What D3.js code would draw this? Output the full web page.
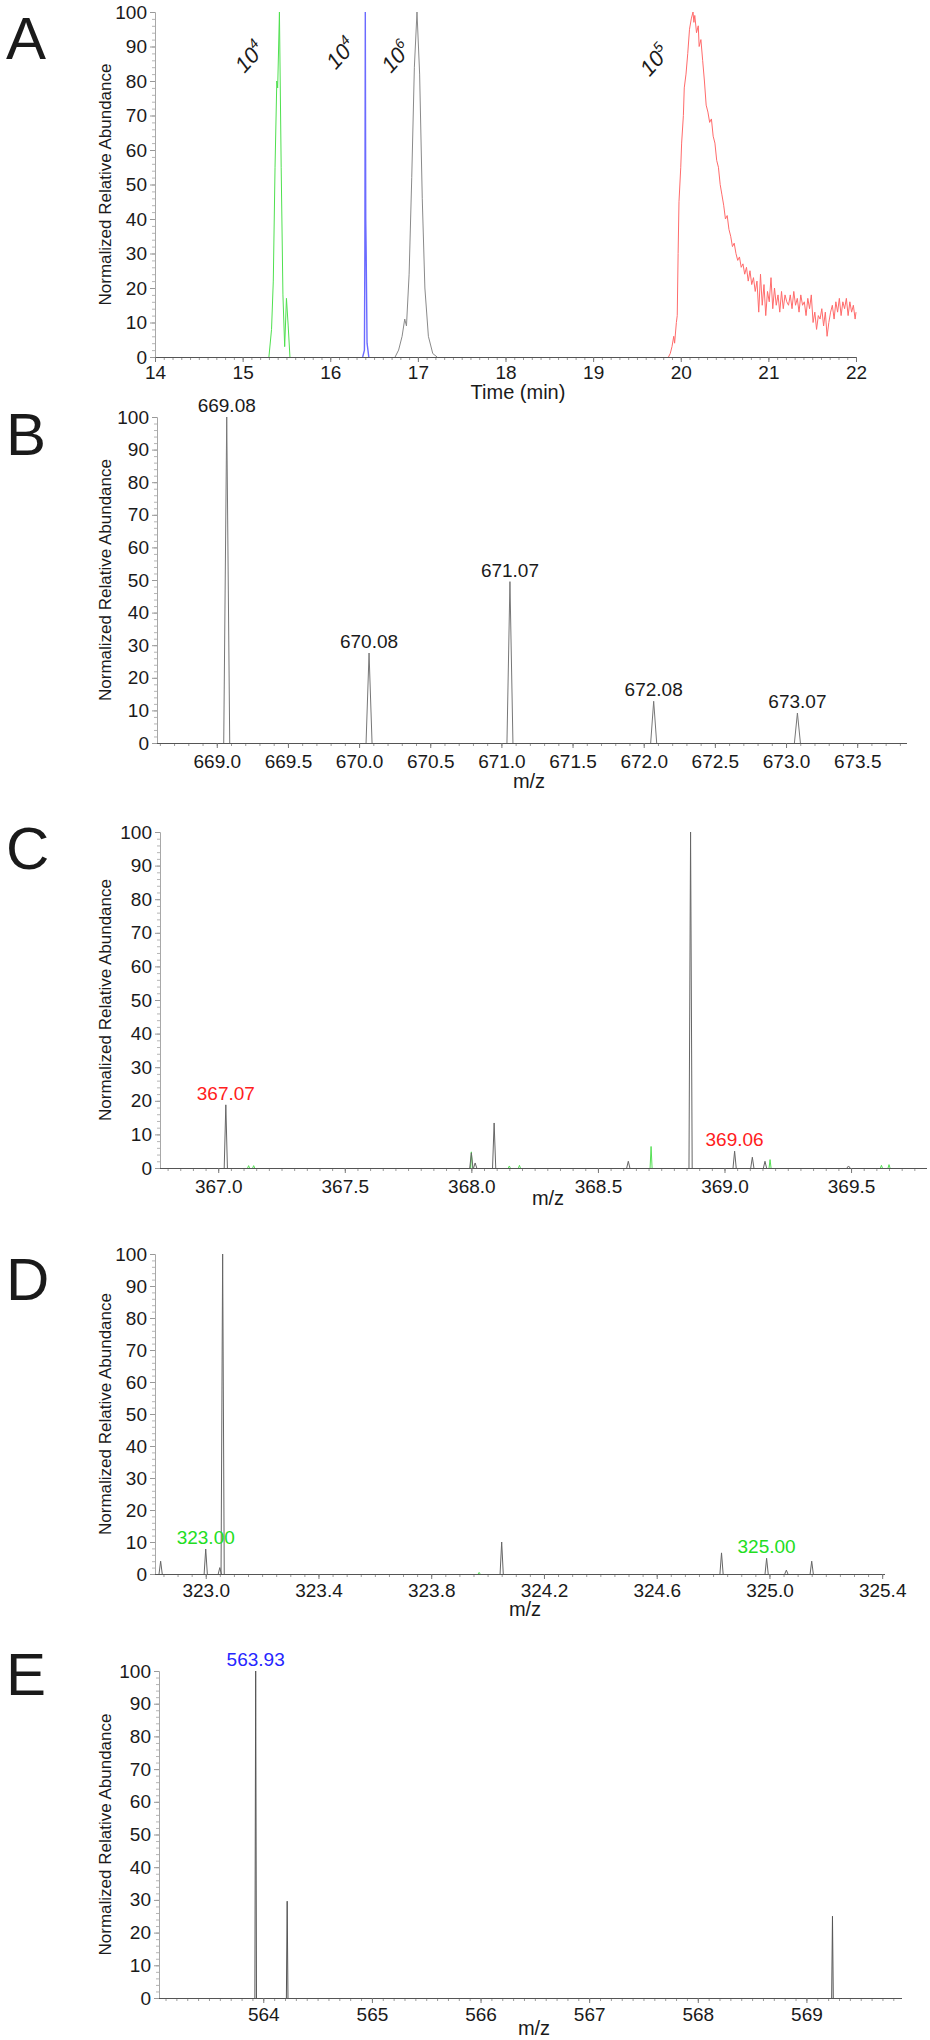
<!DOCTYPE html>
<html>
<head>
<meta charset="utf-8">
<script src="https://cdn.jsdelivr.net/npm/d3@7"></script>
<style>
  body { margin: 0; background: #fff; }
  text { font-family: "Liberation Sans", Arial, Helvetica, sans-serif; fill: #1a1a1a; }
</style>
</head>
<body>
<div id="chart"></div>
<script>
// ---- data ----
const yTickValues = [0, 10, 20, 30, 40, 50, 60, 70, 80, 90, 100];

// A: extracted ion chromatograms (time in min, normalized abundance)
const timeTicks = [14, 15, 16, 17, 18, 19, 20, 21, 22];
const greenTrace = [[15.30, 0], [15.33, 8], [15.35, 22], [15.37, 55], [15.39, 80], [15.40, 78], [15.42, 100],
    [15.44, 55], [15.46, 18], [15.48, 3], [15.50, 17], [15.52, 9], [15.54, 0]];
const blueTrace = [[16.37, 0], [16.39, 2], [16.395, 30], [16.40, 100], [16.405, 40], [16.41, 30], [16.42, 4], [16.44, 0]];
const grayTrace = [[16.74, 0], [16.78, 2], [16.82, 6], [16.85, 11], [16.87, 9], [16.90, 24], [16.93, 52],
    [16.96, 84], [16.99, 100], [17.02, 82], [17.05, 46], [17.08, 20], [17.12, 6], [17.17, 1], [17.22, 0]];
const redTrace = [[19.86, 0], [19.88, 1], [19.90, 3], [19.92, 6], [19.93, 4], [19.95, 10], [19.96, 12], [19.97, 30],
    [19.98, 45], [20.00, 55], [20.01, 62], [20.03, 70], [20.04, 78], [20.06, 82], [20.08, 88], [20.10, 95],
    [20.12, 98], [20.14, 100], [20.15, 97], [20.16, 99], [20.18, 94], [20.20, 96], [20.21, 90], [20.23, 92],
    [20.25, 86], [20.27, 80], [20.29, 73], [20.31, 71], [20.33, 68], [20.35, 69], [20.37, 64], [20.39, 62],
    [20.41, 57], [20.43, 55], [20.45, 50], [20.47, 47], [20.49, 44], [20.51, 40], [20.53, 41], [20.55, 37],
    [20.57, 35], [20.59, 32], [20.61, 33], [20.63, 30], [20.65, 28], [20.67, 29], [20.69, 26], [20.71, 27],
    [20.73, 24], [20.75, 26], [20.77, 22], [20.79, 25], [20.81, 21], [20.83, 23], [20.85, 19], [20.87, 22],
    [20.89, 13], [20.91, 24], [20.93, 15], [20.95, 21], [20.97, 12], [20.99, 19], [21.01, 16], [21.03, 23],
    [21.05, 14], [21.07, 20], [21.09, 15], [21.11, 18], [21.13, 13], [21.15, 19], [21.17, 14], [21.19, 18],
    [21.21, 16], [21.23, 15], [21.25, 18], [21.27, 14], [21.29, 19], [21.31, 15], [21.33, 17], [21.35, 13],
    [21.37, 18], [21.39, 15], [21.41, 16], [21.43, 12], [21.45, 17], [21.47, 14], [21.49, 18], [21.51, 10],
    [21.53, 13], [21.55, 8], [21.57, 12], [21.59, 11], [21.61, 14], [21.63, 9], [21.65, 13], [21.67, 6],
    [21.69, 10], [21.71, 13], [21.73, 15], [21.75, 11], [21.77, 16], [21.79, 13], [21.81, 17], [21.83, 12],
    [21.85, 16], [21.87, 14], [21.89, 17], [21.91, 12], [21.93, 16], [21.95, 13], [21.97, 15], [21.99, 11], [22.00, 13]];
// intensity annotations above the peaks: [time, abundance, exponent]
const chromNotes = [[15.08, 87, '4'], [16.12, 88, '4'], [16.75, 87, '6'], [19.70, 86, '5']];

// B: isotope pattern (m/z, abundance)
const ticksB = [669.0, 669.5, 670.0, 670.5, 671.0, 671.5, 672.0, 672.5, 673.0, 673.5];
const peaksB = [[669.07, 100], [670.07, 27.6], [671.06, 49.5], [672.07, 12.8], [673.08, 9.2]];
const labelsB = ['669.08', '670.08', '671.07', '672.08', '673.07'];

// C
const ticksC = [367.0, 367.5, 368.0, 368.5, 369.0, 369.5];
const peaksC = [[367.03, 18.8], [368.0, 4.5], [368.015, 1.5], [368.09, 13.4], [368.62, 2], [368.866, 100],
    [369.04, 5], [369.11, 3.2], [369.16, 2], [369.49, 0.6]];
const greenC = [[367.12, 0.7], [367.14, 0.7], [368.0, 4.8], [368.15, 0.6], [368.19, 0.8], [368.71, 6.4],
    [369.18, 2.5], [369.62, 0.8], [369.65, 1]];
const labelsC = [[0, '367.07'], [6, '369.06']];

// D
const ticksD = [323.0, 323.4, 323.8, 324.2, 324.6, 325.0, 325.4];
const peaksD = [[322.84, 4], [323.0, 7.8], [323.05, 2], [323.06, 100], [324.05, 10], [324.83, 6.6],
    [324.99, 4.9], [325.06, 1.2], [325.15, 4]];
const greenD = [[323.97, 0.5]];
const labelsD = [[1, '323.00'], [6, '325.00']];

// E
const ticksE = [564, 565, 566, 567, 568, 569];
const peaksE = [[563.93, 100], [564.22, 29.6], [569.24, 25]];
const labelsE = [[0, '563.93']];

// ---- drawing ----
const svg = d3.select('#chart').append('svg')
    .attr('width', 930)
    .attr('height', 2040)
    .style('background', '#fff');

function drawPanel(p) {
    const x = d3.scaleLinear().domain(p.xDomain).range([p.left, p.right]);
    const y = d3.scaleLinear().domain([0, 100]).range([p.bottom, p.top]);
    const g = svg.append('g');

    // panel letter
    g.append('text')
        .attr('x', 6)
        .attr('y', p.letterY)
        .attr('font-size', 60)
        .text(p.letter);

    // y minor ticks
    g.append('g')
        .attr('transform', `translate(${p.left},0)`)
        .call(d3.axisLeft(y).tickValues(d3.range(0, 101, 2)).tickSize(3).tickFormat(''))
        .call(s => s.select('.domain').remove())
        .call(s => s.selectAll('line').attr('stroke', '#b5b5b5'));

    // y axis
    g.append('g')
        .attr('transform', `translate(${p.left},0)`)
        .call(d3.axisLeft(y).tickValues(yTickValues).tickSize(5).tickPadding(3).tickFormat(d3.format('d')))
        .call(s => s.select('.domain').attr('stroke', '#a8a8a8'))
        .call(s => s.selectAll('line').attr('stroke', '#999'))
        .call(s => s.selectAll('text').attr('font-size', 19).attr('fill', '#1a1a1a')
            .style('font-family', '"Liberation Sans", Arial, sans-serif'));

    // x minor ticks
    g.append('g')
        .attr('transform', `translate(0,${p.bottom})`)
        .call(d3.axisBottom(x).tickValues(d3.range(p.minorStart, p.xDomain[1], p.minorStep)).tickSize(3).tickFormat(''))
        .call(s => s.select('.domain').remove())
        .call(s => s.selectAll('line').attr('stroke', '#9a9a9a'));

    // x axis
    g.append('g')
        .attr('transform', `translate(0,${p.bottom})`)
        .call(d3.axisBottom(x).tickValues(p.ticks).tickSize(5).tickPadding(p.tickPad).tickFormat(d3.format(p.fmt)))
        .call(s => s.select('.domain').attr('stroke', '#555').attr('d', `M${p.left},0.5H${p.right}`))
        .call(s => s.selectAll('line').attr('stroke', '#777'))
        .call(s => s.selectAll('text').attr('font-size', 19).attr('fill', '#1a1a1a')
            .style('font-family', '"Liberation Sans", Arial, sans-serif'));

    // axis titles
    g.append('text')
        .attr('transform', `translate(111,${(p.top + p.bottom) / 2}) rotate(-90)`)
        .attr('text-anchor', 'middle')
        .attr('font-size', 17)
        .text('Normalized Relative Abundance');

    g.append('text')
        .attr('x', p.titleX)
        .attr('y', p.bottom + p.titleDy)
        .attr('text-anchor', 'middle')
        .attr('font-size', 20)
        .text(p.title);

    // traces
    const line = d3.line().x(d => x(d[0])).y(d => y(d[1]));
    (p.traces || []).forEach(t => {
        g.append('path')
            .datum(t.data)
            .attr('d', line)
            .attr('fill', 'none')
            .attr('stroke', t.color)
            .attr('stroke-width', t.width || 1);
    });

    // centroid-like peaks drawn as narrow profiles
    (p.sticks || []).forEach(s => {
        s.data.forEach(d => {
            const pts = [[x(d[0]) - s.half, y(0)], [x(d[0]), y(d[1])], [x(d[0]) + s.half, y(0)]];
            g.append('path')
                .attr('d', d3.line()(pts))
                .attr('fill', 'none')
                .attr('stroke', s.color)
                .attr('stroke-width', s.width || 1);
        });
    });

    // peak labels
    (p.labels || []).forEach(l => {
        g.append('text')
            .attr('x', x(l.mz))
            .attr('y', y(l.h) - 5)
            .attr('text-anchor', 'middle')
            .attr('font-size', 19)
            .style('fill', p.labelColor)
            .text(l.text);
    });

    return { g, x, y };
}

// Panel A
const panelA = drawPanel({
    letter: 'A', letterY: 59,
    xDomain: [14, 22], left: 155, right: 856, top: 12, bottom: 357,
    ticks: timeTicks, fmt: 'd', tickPad: 4, minorStart: 14, minorStep: 0.1,
    title: 'Time (min)', titleX: 518, titleDy: 42,
    traces: [
        { data: greenTrace, color: '#4fe04f' },
        { data: blueTrace, color: '#6b6bff', width: 1.4 },
        { data: grayTrace, color: '#8a8a8a' },
        { data: redTrace, color: '#ff6b6b' }
    ]
});

chromNotes.forEach(n => {
    const t = panelA.g.append('text')
        .attr('transform', `translate(${panelA.x(n[0])},${panelA.y(n[1])}) rotate(-48)`)
        .attr('text-anchor', 'middle')
        .attr('dy', '0.35em')
        .attr('font-size', 22)
        .style('font-style', 'italic');
    t.append('tspan').text('10');
    t.append('tspan').attr('dy', -9).attr('font-size', 14).text(n[2]);
});

// Panel B
drawPanel({
    letter: 'B', letterY: 455,
    xDomain: [668.58, 673.85], left: 157, right: 907, top: 417, bottom: 743,
    ticks: ticksB, fmt: '.1f', tickPad: 7, minorStart: 668.6, minorStep: 0.1,
    title: 'm/z', titleX: 529, titleDy: 45,
    sticks: [{ data: peaksB, color: '#777', half: 3 }],
    labels: peaksB.map((d, i) => ({ mz: d[0], h: d[1], text: labelsB[i] })),
    labelColor: '#1a1a1a'
});

// Panel C
drawPanel({
    letter: 'C', letterY: 869,
    xDomain: [366.77, 369.80], left: 160, right: 927, top: 832, bottom: 1168,
    ticks: ticksC, fmt: '.1f', tickPad: 7, minorStart: 366.8, minorStep: 0.05,
    title: 'm/z', titleX: 548, titleDy: 37,
    sticks: [
        { data: greenC, color: '#55e055', half: 1 },
        { data: peaksC, color: '#666', half: 1.6 }
    ],
    labels: labelsC.map(l => ({ mz: peaksC[l[0]][0], h: peaksC[l[0]][1], text: l[1] })),
    labelColor: '#ff2020'
});

// Panel D
drawPanel({
    letter: 'D', letterY: 1300,
    xDomain: [322.82, 325.41], left: 155, right: 885, top: 1254, bottom: 1574,
    ticks: ticksD, fmt: '.1f', tickPad: 5, minorStart: 322.85, minorStep: 0.05,
    title: 'm/z', titleX: 525, titleDy: 42,
    sticks: [
        { data: greenD, color: '#55e055', half: 1 },
        { data: peaksD, color: '#666', half: 1.6 }
    ],
    labels: labelsD.map(l => ({ mz: peaksD[l[0]][0], h: peaksD[l[0]][1], text: l[1] })),
    labelColor: '#22dd22'
});

// Panel E
drawPanel({
    letter: 'E', letterY: 1695,
    xDomain: [563.04, 569.88], left: 159, right: 902, top: 1671, bottom: 1998,
    ticks: ticksE, fmt: 'd', tickPad: 5, minorStart: 563.1, minorStep: 0.1,
    title: 'm/z', titleX: 534, titleDy: 37,
    sticks: [{ data: peaksE, color: '#555', half: 0.8 }],
    labels: labelsE.map(l => ({ mz: peaksE[l[0]][0], h: peaksE[l[0]][1], text: l[1] })),
    labelColor: '#2626ff'
});
</script>
</body>
</html>
